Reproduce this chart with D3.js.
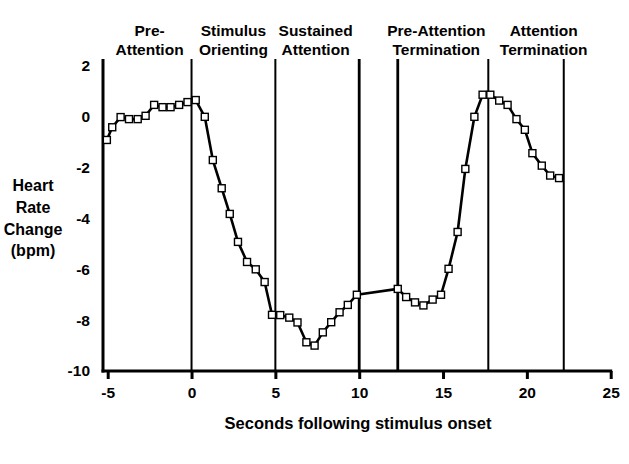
<!DOCTYPE html>
<html><head><meta charset="utf-8">
<script src="https://cdn.jsdelivr.net/npm/d3@7"></script>
<style>body{margin:0;background:#fff}svg{display:block}text{font-family:"Liberation Sans",Arial,sans-serif;font-weight:bold;fill:#000}</style>
</head><body>
<script>
const times = [-5.05,-4.73,-4.23,-3.73,-3.21,-2.74,-2.23,-1.73,-1.25,-0.74,-0.24,0.25,0.79,1.27,1.80,2.28,2.77,3.31,3.83,4.36,4.80,5.29,5.83,6.32,6.85,7.34,7.83,8.33,8.83,9.32,9.86,12.3,12.8,13.33,13.83,14.38,14.88,15.33,15.87,16.33,16.87,17.36,17.82,18.35,18.85,19.38,19.88,20.33,20.89,21.39,21.92];
const hrChange = [-0.91,-0.41,-0.01,-0.09,-0.09,0.04,0.47,0.38,0.38,0.47,0.58,0.66,0.0,-1.70,-2.81,-3.82,-4.92,-5.71,-6.0,-6.5,-7.79,-7.8,-7.9,-8.09,-8.87,-9.0,-8.48,-8.08,-7.69,-7.4,-7.0,-6.77,-7.09,-7.3,-7.42,-7.19,-7.0,-5.98,-4.53,-2.05,0.0,0.87,0.87,0.64,0.47,-0.09,-0.51,-1.43,-1.92,-2.31,-2.41];
const boundaries = [0,5,10,12.3,17.7,22.2];
const phaseLabels = [["Pre-","Attention"],["Stimulus","Orienting"],["Sustained","Attention"],["Pre-Attention","Termination"],["Attention","Termination"]];
const phaseCenters = [-2.5,2.5,7.4,14.6,21.0];
const xTicks = [-5,0,5,10,15,20,25];
const yTicks = [2,0,-2,-4,-6,-8,-10];
const yTitle = ["Heart","Rate","Change","(bpm)"];
const xTitle = "Seconds following stimulus onset";

const W=629,H=464;
const svg=d3.select("body").append("svg").attr("width",W).attr("height",H);
const x=d3.scaleLinear().domain([-5,25]).range([107.7,610.7]);
const y=d3.scaleLinear().domain([-10,2]).range([371,66]);
const axisX=103, topY=59;
const fmt=d=>String(d);

// boundary lines
svg.selectAll("line.b").data(boundaries).join("line")
  .attr("x1",d=>x(d)).attr("x2",d=>x(d)).attr("y1",topY).attr("y2",y(-10))
  .attr("stroke","#000").attr("stroke-width",(d,i)=>(i===2||i===3)?2.8:2);

// x axis
const xa=svg.append("g").attr("transform",`translate(0,${y(-10)})`)
  .call(d3.axisBottom(x).tickValues(xTicks).tickSize(8).tickFormat(fmt));
xa.select(".domain").remove();
xa.selectAll(".tick line").attr("stroke","#000").attr("stroke-width",3);
xa.selectAll(".tick text").attr("font-size",15.5).attr("dy",0).attr("y",23).attr("dominant-baseline","middle");
svg.append("line").attr("x1",axisX-1.5).attr("x2",x(25)+1.5).attr("y1",y(-10)).attr("y2",y(-10)).attr("stroke","#000").attr("stroke-width",3);

// y axis
const ya=svg.append("g").attr("transform",`translate(${axisX},0)`)
  .call(d3.axisLeft(y).tickValues(yTicks).tickSize(0).tickPadding(13).tickFormat(fmt));
ya.select(".domain").remove();
ya.selectAll(".tick text").attr("font-size",15.5);
svg.append("line").attr("x1",axisX).attr("x2",axisX).attr("y1",topY).attr("y2",y(-10)+1.5).attr("stroke","#000").attr("stroke-width",3);

// data line
const pts=times.map((t,i)=>[t,hrChange[i]]);
svg.append("path").datum(pts).attr("fill","none").attr("stroke","#000").attr("stroke-width",2.6)
  .attr("stroke-linejoin","round")
  .attr("d",d3.line().x(d=>x(d[0])).y(d=>y(d[1])));
svg.selectAll("rect.m").data(pts).join("rect")
  .attr("x",d=>x(d[0])-3.5).attr("y",d=>y(d[1])-3.5).attr("width",7).attr("height",7)
  .attr("fill","#fff").attr("stroke","#000").attr("stroke-width",1.4);

// phase labels
phaseLabels.forEach((lines,i)=>{
  lines.forEach((s,j)=>{
    svg.append("text").attr("x",x(phaseCenters[i])).attr("y",32+j*19).attr("text-anchor","middle")
      .attr("dominant-baseline","middle").attr("font-size",15.5).text(s);
  });
});

// titles
yTitle.forEach((s,j)=>{
  svg.append("text").attr("x",33).attr("y",187+j*21.7).attr("text-anchor","middle")
    .attr("dominant-baseline","middle").attr("font-size",16).text(s);
});
svg.append("text").attr("x",358).attr("y",425).attr("text-anchor","middle")
  .attr("dominant-baseline","middle").attr("font-size",16.5).text(xTitle);
</script>
</body></html>
